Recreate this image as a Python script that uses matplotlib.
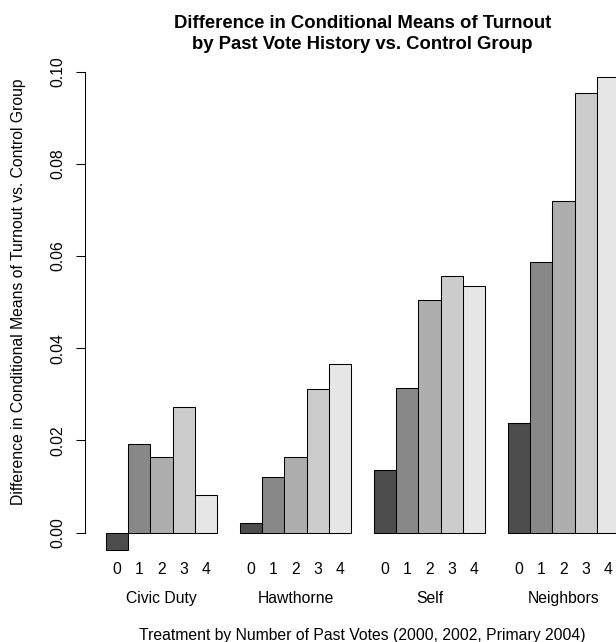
import matplotlib
matplotlib.use("Agg")
import matplotlib.pyplot as plt
import matplotlib.transforms as mtransforms

plt.rcParams['font.family'] = ['Liberation Sans', 'DejaVu Sans']

groups = ["Civic Duty", "Hawthorne", "Self", "Neighbors"]
past_votes = ["0", "1", "2", "3", "4"]
civic_duty = [-0.0037, 0.0193, 0.0165, 0.0273, 0.0082]
hawthorne = [0.0022, 0.0120, 0.0164, 0.0312, 0.0365]
self_ = [0.0137, 0.0313, 0.0505, 0.0556, 0.0535]
neighbors = [0.0239, 0.0587, 0.0719, 0.0953, 0.0988]
colors = ["#4D4D4D", "#888888", "#AEAEAE", "#CCCCCC", "#E6E6E6"]
yticks = [0.00, 0.02, 0.04, 0.06, 0.08, 0.10]
title_lines = ["Difference in Conditional Means of Turnout",
               "by Past Vote History vs. Control Group"]
xlabel = "Treatment by Number of Past Votes (2000, 2002, Primary 2004)"
ylabel = "Difference in Conditional Means of Turnout vs. Control Group"

W, H = 616, 642
fig = plt.figure(figsize=(W / 100, H / 100), dpi=100)

# plot region in pixels (from top-left); the right part lies beyond the canvas
left_px, right_px = 85.2, 639.8
top_px, bot_px = 53.3, 551.1
ax = fig.add_axes([left_px / W, 1 - bot_px / H, (right_px - left_px) / W, (bot_px - top_px) / H])

series = [civic_duty, hawthorne, self_, neighbors]
centers = []
labels = []
group_centers = []
for g, vals in enumerate(series):
    for j, v in enumerate(vals):
        x = 1 + g * 6 + j
        ax.bar(x, v, width=1, align='edge', color=colors[j], edgecolor='black',
               linewidth=0.75, clip_on=False)
        centers.append(x + 0.5)
        labels.append(past_votes[j])
    group_centers.append(1 + g * 6 + 2.5)

for s in ['top', 'right', 'bottom']:
    ax.spines[s].set_visible(False)
ax.spines['left'].set_bounds(0, 0.1)
ax.spines['left'].set_linewidth(0.75)

base = 11.3
ax.set_yticks(yticks)
ax.set_yticklabels([f"{t:.2f}" for t in yticks], rotation=90, va='center', fontsize=base)
ax.tick_params(axis='y', length=6.8, width=0.75, pad=7.2)
ax.set_xticks([])

ax.set_xlim(0.08, 24.92)
ax.set_ylim(-0.004, 0.104)

trans = mtransforms.blended_transform_factory(ax.transData, fig.transFigure)
for c, lab in zip(centers, labels):
    ax.text(c, 1 - 573.5 / H, lab, transform=trans, ha='center', va='baseline',
            fontsize=base, clip_on=False)
for gc, name in zip(group_centers, groups):
    ax.text(gc, 1 - 602.7 / H, name, transform=trans, ha='center', va='baseline',
            fontsize=base, clip_on=False)

cx = (left_px + right_px) / 2 / W
fig.text(cx, 1 - 640 / H, xlabel, ha='center', va='baseline', fontsize=base)
fig.text(22.7 / W, 1 - 292 / H, ylabel, ha='center', va='baseline',
         rotation=90, rotation_mode='anchor', fontsize=base)
fig.text(cx, 1 - 28 / H, title_lines[0], ha='center', va='baseline',
         fontsize=13.3, fontweight='bold')
fig.text(cx, 1 - 49.3 / H, title_lines[1], ha='center', va='baseline',
         fontsize=13.3, fontweight='bold')

fig.savefig("out.png", dpi=100)
